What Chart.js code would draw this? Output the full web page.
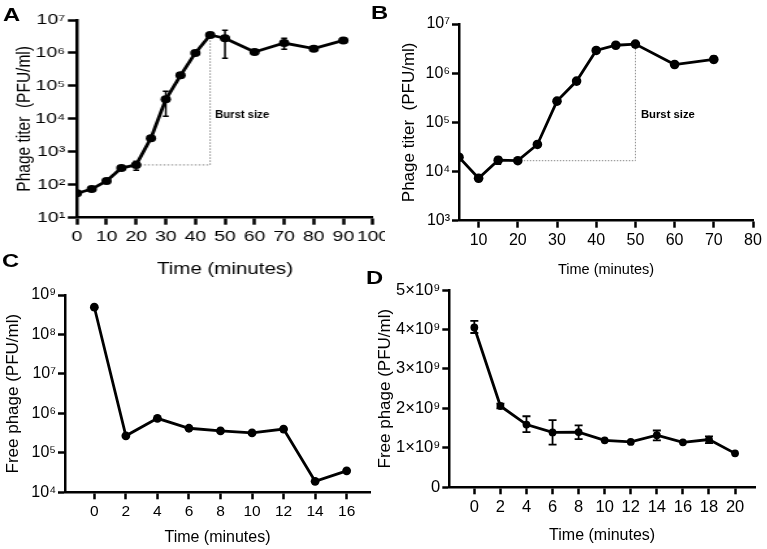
<!DOCTYPE html>
<html>
<head>
<meta charset="utf-8">
<script src="https://cdn.jsdelivr.net/npm/chart.js@4.4.1/dist/chart.umd.min.js"></script>
<style>
  html, body { margin: 0; padding: 0; background: #fff; }
  #page { position: relative; width: 767px; height: 549px; overflow: hidden; }
  .panel { position: absolute; left: 0; top: 0; transform-origin: 0 0; }
  .panel canvas { display: block; }
  #clipA { position: absolute; left: 0; top: 0; width: 385px; height: 549px; overflow: hidden; }
  .letter {
    position: absolute; line-height: 19px; color: #000; transform: scaleX(1.25); transform-origin: 0 0;
    font: bold 19px "Liberation Sans", Arial, Helvetica, sans-serif;
  }
</style>
</head>
<body>
<div id="page">
  <!-- panel A is drawn narrow and stretched sideways, like the source figure -->
  <div id="clipA">
    <div class="panel" style="transform: scaleX(1.3)"><canvas id="chartA" width="590" height="549"></canvas></div>
  </div>
  <div class="panel"><canvas id="chartB" width="767" height="549"></canvas></div>
  <div class="panel"><canvas id="chartC" width="767" height="549"></canvas></div>
  <div class="panel"><canvas id="chartD" width="767" height="549"></canvas></div>
  <div class="letter" style="left:3px;top:4px">A</div>
  <div class="letter" style="left:371px;top:2px">B</div>
  <div class="letter" style="left:2px;top:250px">C</div>
  <div class="letter" style="left:366px;top:267px">D</div>
</div>
<script>
// A – one-step growth curve
const timeA  = [0, 5, 10, 15, 20, 25, 30, 35, 40, 45, 50, 60, 70, 80, 90];
const titerA = [55, 74, 130, 320, 400, 2600, 39000, 2.1e5, 1.0e6, 3.5e6, 2.8e6, 1.07e6, 2.0e6, 1.35e6, 2.4e6];
const lowA   = [null, null, null, null, 275, null, 12000, null, null, null, 6.9e5, null, 1.3e6, null, null];
const highA  = [null, null, null, null, 520, null, 69000, null, null, null, 4.9e6, null, 2.8e6, null, null];
const burstA = [20, 45];
const yTicksA = [1e1, 1e2, 1e3, 1e4, 1e5, 1e6, 1e7];
const xTicksA = [0, 10, 20, 30, 40, 50, 60, 70, 80, 90, 100];

// B – one-step growth curve, second phage
const timeB  = [5, 10, 15, 20, 25, 30, 35, 40, 45, 50, 60, 70];
const titerB = [19500, 7300, 17000, 16600, 35500, 2.7e5, 6.9e5, 2.9e6, 3.7e6, 3.9e6, 1.5e6, 1.9e6];
const lowB   = [null, null, 14000, null, null, null, null, null, null, null, null, 1.65e6];
const highB  = [null, null, 19500, null, null, null, null, null, null, null, null, 2.2e6];
const burstB = [20, 50];
const yTicksB = [1e3, 1e4, 1e5, 1e6, 1e7];
const xTicksB = [10, 20, 30, 40, 50, 60, 70, 80];

// C – free phage, log scale
const timeC = [0, 2, 4, 6, 8, 10, 12, 14, 16];
const freeC = [4.9e8, 2.7e5, 7.5e5, 4.2e5, 3.6e5, 3.2e5, 4.0e5, 1.9e4, 3.5e4];
const yTicksC = [1e4, 1e5, 1e6, 1e7, 1e8, 1e9];
const xTicksC = [0, 2, 4, 6, 8, 10, 12, 14, 16];

// D – free phage, linear scale
const timeD = [0, 2, 4, 6, 8, 10, 12, 14, 16, 18, 20];
const freeD = [4.05e9, 2.06e9, 1.59e9, 1.39e9, 1.40e9, 1.19e9, 1.15e9, 1.32e9, 1.14e9, 1.21e9, 0.86e9];
const lowD  = [3.91e9, 2.0e9, 1.40e9, 1.08e9, 1.22e9, null, null, 1.19e9, null, 1.12e9, null];
const highD = [4.22e9, 2.12e9, 1.80e9, 1.70e9, 1.57e9, null, null, 1.44e9, null, 1.29e9, null];
const yTicksD = [0, 1e9, 2e9, 3e9, 4e9, 5e9];
const xTicksD = [0, 2, 4, 6, 8, 10, 12, 14, 16, 18, 20];

const FONT = '"Liberation Sans", Arial, Helvetica, sans-serif';
const TICK = 7;
Chart.defaults.font.family = FONT;
Chart.defaults.color = '#000';

const SUP = { 0: '\u2070', 1: '\u00b9', 2: '\u00b2', 3: '\u00b3', 4: '\u2074', 5: '\u2075', 6: '\u2076', 7: '\u2077', 8: '\u2078', 9: '\u2079' };
const sup = (n) => String(n).split('').map((c) => SUP[c]).join('');
const decadeLabel = (v) => '10' + sup(Math.round(Math.log10(v)));
const sciLabel = (v) => (v === 0 ? '0' : Math.round(v / 1e9) + '\u00d710' + sup(9));

// error bars, drawn from the low/high arrays through the chart scales
const errorBars = {
  id: 'errorBars',
  afterDatasetsDraw(chart, args, opts) {
    if (!opts || !opts.low) return;
    const { ctx } = chart;
    const xs = chart.scales.x, ys = chart.scales.y;
    ctx.save();
    ctx.strokeStyle = '#000';
    ctx.lineWidth = opts.width;
    chart.data.datasets[0].data.forEach((p, i) => {
      const lo = opts.low[i], hi = opts.high[i];
      if (lo == null || hi == null) return;
      const x = xs.getPixelForValue(p.x);
      const y1 = ys.getPixelForValue(lo), y2 = ys.getPixelForValue(hi);
      const c = opts.cap / 2;
      ctx.beginPath();
      ctx.moveTo(x, y1); ctx.lineTo(x, y2);
      ctx.moveTo(x - c, y1); ctx.lineTo(x + c, y1);
      ctx.moveTo(x - c, y2); ctx.lineTo(x + c, y2);
      ctx.stroke();
    });
    ctx.restore();
  },
};

// "Burst size" note next to the dotted guide
const burstLabel = {
  id: 'burstLabel',
  afterDatasetsDraw(chart, args, opts) {
    if (!opts || !opts.text) return;
    const pts = chart.data.datasets[1].data;
    const xs = chart.scales.x, ys = chart.scales.y;
    const x = xs.getPixelForValue(pts[2].x) + opts.dx;
    const y = (ys.getPixelForValue(pts[1].y) + ys.getPixelForValue(pts[2].y)) / 2 + opts.dy;
    const { ctx } = chart;
    ctx.save();
    ctx.translate(x, y);
    ctx.scale(opts.squeeze, 1);
    ctx.fillStyle = '#000';
    ctx.font = 'bold 11.3px ' + FONT;
    ctx.textBaseline = 'middle';
    ctx.textAlign = 'left';
    ctx.fillText(opts.text, 0, 0);
    ctx.restore();
  },
};

function mainSeries(xs, ys, radius) {
  return {
    data: xs.map((x, i) => ({ x, y: ys[i] })),
    showLine: true,
    borderColor: '#000',
    borderWidth: 2.8,
    pointRadius: radius,
    pointBackgroundColor: '#000',
    pointBorderWidth: 0,
  };
}

function burstSeries(xs, ys, range) {
  const a = xs.indexOf(range[0]), b = xs.indexOf(range[1]);
  return {
    data: [
      { x: xs[a], y: ys[a] },
      { x: xs[b], y: ys[a] },
      { x: xs[b], y: ys[b] },
    ],
    showLine: true,
    borderColor: '#8a8a8a',
    borderWidth: 1,
    borderDash: [1.5, 1.5],
    pointRadius: 0,
  };
}

function xAxis(p) {
  return {
    type: 'linear', min: p.min, max: p.max,
    afterBuildTicks: (s) => { s.ticks = p.ticks.map((v) => ({ value: v })); },
    ticks: { font: { size: p.tickSize }, padding: p.tickPad, maxRotation: 0, autoSkip: false },
    grid: { drawOnChartArea: false, tickLength: TICK, tickWidth: 2.5, tickColor: '#000' },
    border: { color: '#000', width: 2.5 },
    title: { display: true, text: 'Time (minutes)', font: { size: p.titleSize }, padding: 0 },
    afterFit: (s) => { s.height = p.height; },
  };
}

function yAxis(p) {
  return {
    type: p.type, min: p.min, max: p.max,
    afterBuildTicks: (s) => { s.ticks = p.ticks.map((v) => ({ value: v })); },
    ticks: { font: { size: p.tickSize }, padding: 2, autoSkip: false, callback: p.label },
    grid: { drawOnChartArea: false, tickLength: TICK, tickWidth: 2.5, tickColor: '#000' },
    border: { color: '#000', width: 2.5 },
    title: { display: true, text: p.title, font: { size: p.titleSize }, padding: 0 },
    afterFit: (s) => { s.width = p.width; },
  };
}

function makePanel(id, datasets, padding, plugins, scales) {
  return new Chart(document.getElementById(id), {
    type: 'scatter',
    data: { datasets },
    options: {
      responsive: false,
      animation: false,
      events: [],
      layout: { padding },
      plugins: Object.assign({ legend: { display: false }, tooltip: { enabled: false } }, plugins),
      scales,
    },
    plugins: [errorBars, burstLabel],
  });
}

makePanel('chartA',
  [mainSeries(timeA, titerA, 4), burstSeries(timeA, titerA, burstA)],
  { left: 9.9, top: 20, right: 303.1, bottom: 269.5 },
  {
    errorBars: { low: lowA, high: highA, cap: 4.5, width: 1.5 },
    burstLabel: { text: 'Burst size', dx: 3.8, dy: 15, squeeze: 1 / 1.3 },
  },
  {
    x: xAxis({ min: 0, max: 100, ticks: xTicksA, tickSize: 15, tickPad: 3, titleSize: 15.8, height: 61.8 }),
    y: yAxis({ type: 'logarithmic', min: 10, max: 1e7, ticks: yTicksA, label: decadeLabel, tickSize: 15,
      title: 'Phage titer  (PFU/ml)', titleSize: 15.5, width: 49.3 }),
  });

makePanel('chartB',
  [mainSeries(timeB, titerB, 4.8), burstSeries(timeB, titerB, burstB)],
  { left: 398.8, top: 24, right: 14, bottom: 270.3 },
  {
    errorBars: { low: lowB, high: highB, cap: 6, width: 1.5 },
    burstLabel: { text: 'Burst size', dx: 5.5, dy: 12, squeeze: 1 },
  },
  {
    x: xAxis({ min: 5, max: 80, ticks: xTicksB, tickSize: 16, tickPad: 3, titleSize: 14.5, height: 58 }),
    y: yAxis({ type: 'logarithmic', min: 1e3, max: 1e7, ticks: yTicksB, label: decadeLabel, tickSize: 16,
      title: 'Phage titer  (PFU/ml)', titleSize: 17, width: 60.2 }),
  });

makePanel('chartC',
  [mainSeries(timeC, freeC, 4.4)],
  { left: 3.3, top: 295, right: 397, bottom: 1.9 },
  {},
  {
    x: xAxis({ min: -1.86, max: 17.48, ticks: xTicksC, tickSize: 15.5, tickPad: 3, titleSize: 16, height: 54.8 }),
    y: yAxis({ type: 'logarithmic', min: 1e4, max: 1e9, ticks: yTicksC, label: decadeLabel, tickSize: 16,
      title: 'Free phage (PFU/ml)', titleSize: 17, width: 61.7 }),
  });

makePanel('chartD',
  [mainSeries(timeD, freeD, 3.9)],
  { left: 374.8, top: 290, right: 12, bottom: 3.4 },
  { errorBars: { low: lowD, high: highD, cap: 8, width: 1.8 } },
  {
    x: xAxis({ min: -1.92, max: 21.53, ticks: xTicksD, tickSize: 16.5, tickPad: 3, titleSize: 16, height: 58.3 }),
    y: yAxis({ type: 'linear', min: 0, max: 5e9, ticks: yTicksD, label: sciLabel, tickSize: 16.5,
      title: 'Free phage (PFU/ml)', titleSize: 17, width: 74.5 }),
  });
</script>
</body>
</html>
